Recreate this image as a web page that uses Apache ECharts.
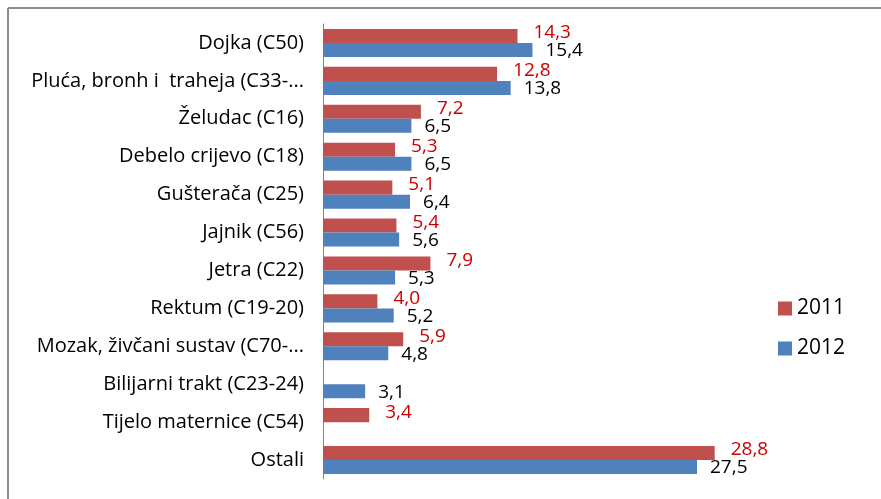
<!DOCTYPE html>
<html>
<head>
<meta charset="utf-8">
<script src="https://cdn.jsdelivr.net/npm/echarts@6/dist/echarts.min.js"></script>
<style>
html,body{margin:0;padding:0;background:#fff;}
#chart{width:881px;height:499px;}
</style>
</head>
<body>
<div id="chart"></div>
<script>
const categories = [
  "Dojka (C50)",
  "Pluća, bronh i  traheja (C33-...",
  "Želudac (C16)",
  "Debelo crijevo (C18)",
  "Gušterača (C25)",
  "Jajnik (C56)",
  "Jetra (C22)",
  "Rektum (C19-20)",
  "Mozak, živčani sustav (C70-...",
  "Bilijarni trakt (C23-24)",
  "Tijelo maternice (C54)",
  "Ostali"
];
const values2011 = [14.3, 12.8, 7.2, 5.3, 5.1, 5.4, 7.9, 4.0, 5.9, null, 3.4, 28.8];
const values2012 = [15.4, 13.8, 6.5, 6.5, 6.4, 5.6, 5.3, 5.2, 4.8, 3.1, null, 27.5];
const seriesNames = ["2011", "2012"];

const font = "'Open Sans', Lato, sans-serif";
const fmt = p => (p.value == null ? '' : Number(p.value).toFixed(1).replace('.', ','));

const chart = echarts.init(document.getElementById('chart'));
chart.setOption({
  animation: false,
  backgroundColor: '#fff',
  graphic: [
    { type: 'line', shape: { x1: 8, y1: 8, x2: 881, y2: 8 }, style: { stroke: '#8c8c8c', lineWidth: 2 } },
    { type: 'line', shape: { x1: 8, y1: 8, x2: 8, y2: 499 }, style: { stroke: '#8c8c8c', lineWidth: 2 } }
  ],
  grid: { left: 323, top: 24, width: 408, height: 455, containLabel: false },
  legend: {
    orient: 'vertical',
    left: 773,
    top: 293,
    itemWidth: 14,
    itemHeight: 14,
    itemGap: 19,
    icon: 'rect',
    textStyle: { fontFamily: font, fontSize: 21, color: '#000', padding: [0, 0, 0, 0] },
    data: seriesNames
  },
  xAxis: {
    type: 'value', min: 0, max: 30,
    show: false
  },
  yAxis: {
    type: 'category',
    data: categories,
    inverse: true,
    axisLine: { show: true, lineStyle: { color: '#868686', width: 1 } },
    axisTick: { show: false },
    axisLabel: { fontFamily: font, fontSize: 20, color: '#000', margin: 19 }
  },
  series: [
    {
      name: seriesNames[0], type: 'bar', data: values2011,
      barGap: '0%', barCategoryGap: '26%',
      itemStyle: { color: '#C0504D' },
      label: { show: true, position: 'right', distance: 16, offset: [0, -3], formatter: fmt,
        fontFamily: font, fontSize: 19, color: '#cc0000' }
    },
    {
      name: seriesNames[1], type: 'bar', data: values2012,
      barGap: '0%', barCategoryGap: '26%',
      itemStyle: { color: '#4F81BD' },
      label: { show: true, position: 'right', distance: 13, offset: [0, 1], formatter: fmt,
        fontFamily: font, fontSize: 19, color: '#000' }
    }
  ]
});
</script>
</body>
</html>
